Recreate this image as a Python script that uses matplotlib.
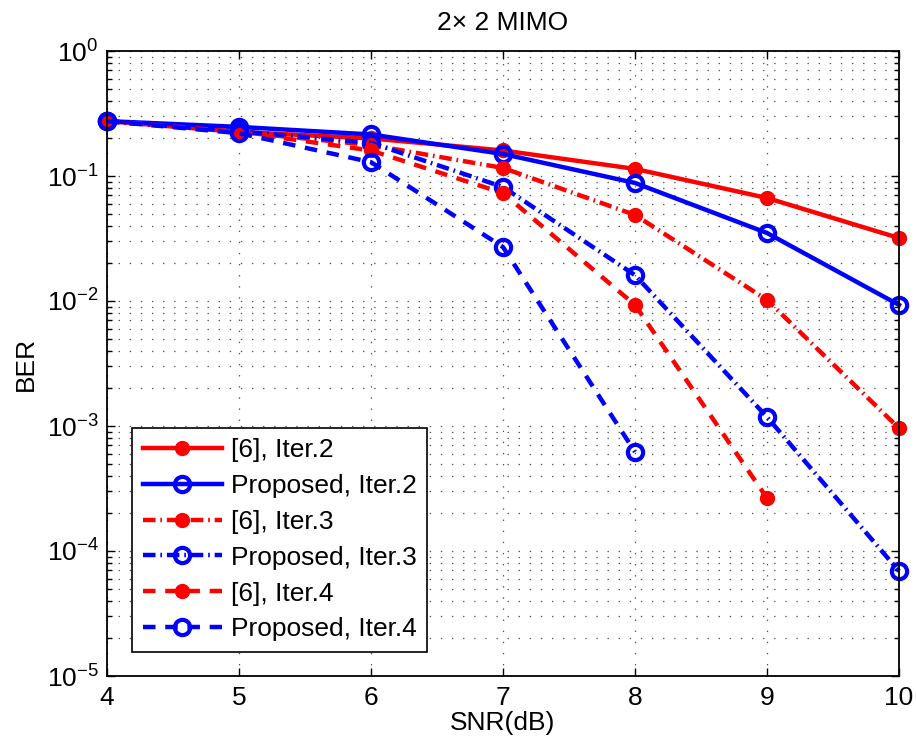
import matplotlib
matplotlib.use("Agg")
import matplotlib.pyplot as plt
from matplotlib.ticker import LogLocator, NullFormatter, FixedLocator

plt.rcParams['font.family'] = ['Liberation Sans', 'DejaVu Sans']
plt.rcParams['mathtext.fontset'] = 'custom'
plt.rcParams['mathtext.rm'] = 'Liberation Sans'
plt.rcParams['mathtext.it'] = 'Liberation Sans:italic'
plt.rcParams['lines.scale_dashes'] = False

snr = [4, 5, 6, 7, 8, 9, 10]
ref_it2 = [0.275, 0.225, 0.200, 0.160, 0.114, 0.0667, 0.0319]
prop_it2 = [0.275, 0.247, 0.215, 0.150, 0.088, 0.035, 0.0093]
ref_it3 = [0.275, 0.225, 0.177, 0.116, 0.0488, 0.0102, 0.00096]
prop_it3 = [0.275, 0.228, 0.184, 0.0817, 0.0161, 0.00118, 0.000069]
snr_it4_ref = [4, 5, 6, 7, 8, 9]
ref_it4 = [0.275, 0.225, 0.160, 0.073, 0.0093, 0.000265]
snr_it4_prop = [4, 5, 6, 7, 8]
prop_it4 = [0.275, 0.220, 0.129, 0.027, 0.00062]

labels = ['[6], Iter.2', 'Proposed, Iter.2', '[6], Iter.3',
          'Proposed, Iter.3', '[6], Iter.4', 'Proposed, Iter.4']
title = '2\u00d7 2 MIMO'
xlabel = 'SNR(dB)'
ylabel = 'BER'

FS = 19

fig = plt.figure(figsize=(9.16, 7.52), dpi=100)
ax = fig.add_axes([107/916, 1-676/752, (899-107)/916, (676-51)/752])

red = (1, 0, 0)
blue = (0, 0, 1)
lw = 3.2
dash = (0, (9, 7))
dashdot = (0, (9, 3.5, 1.2, 3.5))

common = dict(lw=lw, marker='o', clip_on=False)
ax.semilogy(snr, ref_it2, color=red, ls='-', ms=10, mfc=red, mec=red,
            label=labels[0], **common)
ax.semilogy(snr, prop_it2, color=blue, ls='-', ms=11, mfc='none', mec=blue,
            mew=3, label=labels[1], **common)
ax.semilogy(snr, ref_it3, color=red, ls=dashdot, ms=10, mfc=red, mec=red,
            label=labels[2], **common)
ax.semilogy(snr, prop_it3, color=blue, ls=dashdot, ms=11, mfc='none', mec=blue,
            mew=3, label=labels[3], **common)
ax.semilogy(snr_it4_ref, ref_it4, color=red, ls=dash, ms=10, mfc=red, mec=red,
            label=labels[4], **common)
ax.semilogy(snr_it4_prop, prop_it4, color=blue, ls=dash, ms=11, mfc='none',
            mec=blue, mew=3, label=labels[5], **common)

ax.set_xlim(4, 10)
ax.set_ylim(1e-5, 1)
ax.xaxis.set_major_locator(FixedLocator(snr))
ax.yaxis.set_major_locator(LogLocator(base=10, numticks=10))
ax.yaxis.set_minor_locator(LogLocator(base=10, subs=range(2, 10), numticks=20))
ax.yaxis.set_minor_formatter(NullFormatter())

ax.grid(True, which='major', axis='both', color='#555555', lw=0.9, ls=(0, (1, 7)))
ax.grid(True, which='minor', axis='y', color='#555555', lw=0.9, ls=(0, (1, 7)))
ax.set_axisbelow(True)

ax.tick_params(which='both', direction='in', top=True, right=True, labelsize=FS,
               width=1.0, colors='black')
ax.tick_params(which='major', length=6)
ax.tick_params(which='minor', length=3.5)
ax.tick_params(axis='x', pad=7)
ax.tick_params(axis='y', pad=6)
for s in ax.spines.values():
    s.set_linewidth(1.3)

ax.set_title(title, fontsize=FS, pad=15)
ax.set_xlabel(xlabel, fontsize=FS, labelpad=1)
ax.set_ylabel(ylabel, fontsize=FS, labelpad=6)

leg = ax.legend(loc='lower left', bbox_to_anchor=(0.0316, 0.0384), borderaxespad=0,
                fontsize=FS, numpoints=1, handlelength=3.0, handletextpad=0.35,
                labelspacing=0.45, fancybox=False, framealpha=1, borderpad=0.4)
leg.get_frame().set_edgecolor('black')
leg.get_frame().set_linewidth(1.2)

fig.savefig('out.png', dpi=100)
